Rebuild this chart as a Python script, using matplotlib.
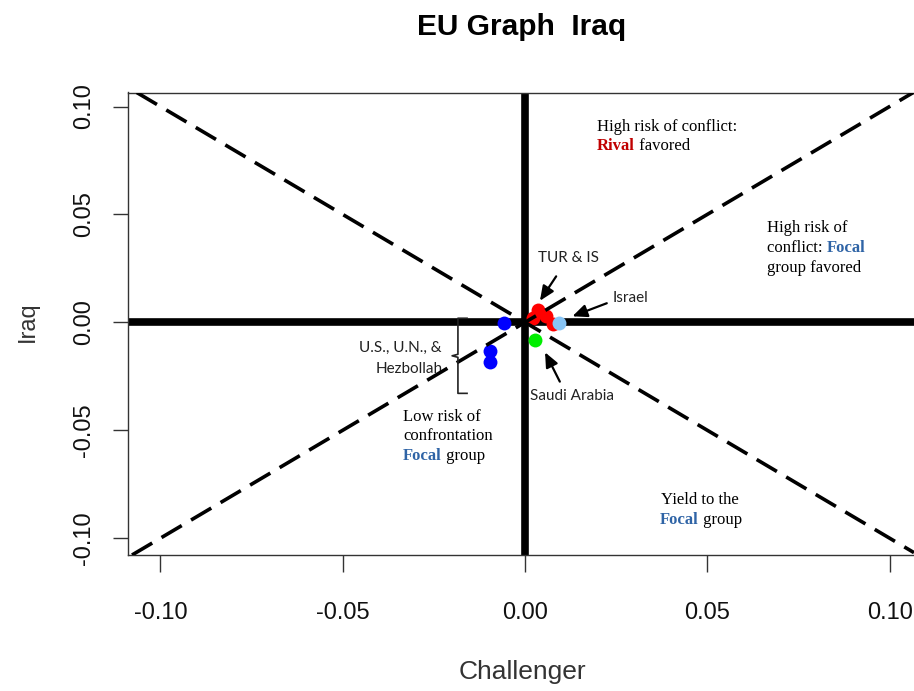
import matplotlib
matplotlib.use("Agg")
import matplotlib.pyplot as plt

# group positions (challenger, iraq)
blue_x = [-0.0058, -0.0096, -0.0096]
blue_y = [-0.0003, -0.0135, -0.0185]
red_x = [0.0022, 0.0036, 0.0058, 0.0076]
red_y = [0.0018, 0.0055, 0.0030, -0.0008]
lightblue_x = [0.0092]
lightblue_y = [-0.0002]
green_x = [0.0028]
green_y = [-0.0083]

xticks = [-0.10, -0.05, 0.00, 0.05, 0.10]
yticks = [-0.10, -0.05, 0.00, 0.05, 0.10]
tick_labels = ["-0.10", "-0.05", "0.00", "0.05", "0.10"]

RED = "#c00000"
FOCAL = "#2f64a6"
serif = "Liberation Serif"
sans = "Lato"

fig = plt.figure(figsize=(9.14, 6.91), dpi=100)
ax = fig.add_axes([128 / 914, 1 - 555 / 691, 1 - 128 / 914, (555 - 92.5) / 691])
ax.set_xlim(-0.1089, 0.1067)
ax.set_ylim(-0.1078, 0.1065)

# quadrant dividers
ax.axhline(0, color="black", lw=5.5, zorder=2)
ax.axvline(0, color="black", lw=5.5, zorder=2)

ax.scatter(blue_x, blue_y, s=100, color="#0000ff", zorder=3, linewidths=0)
ax.scatter(red_x, red_y, s=100, color="#ff0000", zorder=3, linewidths=0)
ax.scatter(lightblue_x, lightblue_y, s=100, color="#87c4f5", zorder=3, linewidths=0)
ax.scatter(green_x, green_y, s=100, color="#00ee00", zorder=3, linewidths=0)

# diagonals
ax.axline((0, 0), slope=1, color="black", lw=2.6, dashes=(6.5, 3), zorder=4)
ax.axline((0, 0), slope=-1, color="black", lw=2.6, dashes=(6.5, 3), zorder=4)

ax.spines["right"].set_visible(False)
for s in ["left", "top", "bottom"]:
    ax.spines[s].set_linewidth(1.0)
    ax.spines[s].set_color("#333333")

ax.set_xticks(xticks)
ax.set_xticklabels(tick_labels, family="Liberation Sans", fontsize=17)
ax.set_yticks(yticks)
ax.set_yticklabels(tick_labels, family="Liberation Sans", fontsize=17, rotation=90, va="center")
ax.tick_params(axis="x", length=12, width=1, pad=22, colors="#333333", labelcolor="#111111")
ax.tick_params(axis="y", length=11, width=1, pad=13, colors="#333333", labelcolor="#111111")

ax.set_xlabel("Challenger", family="Liberation Sans", fontsize=19, color="#333333")
ax.xaxis.set_label_coords((522 - 128) / 786, (555 - 672) / 462.5)
ax.xaxis.label.set_va("center")
ax.set_ylabel("Iraq", family="Liberation Sans", fontsize=17, color="#333333")
ax.yaxis.set_label_coords((28 - 128) / 786, (555 - 322) / 462.5)
ax.yaxis.label.set_va("center")

fig.text(522 / 914, 1 - 27 / 691, "EU Graph  Iraq", ha="center", va="center",
         fontsize=21.5, fontweight="bold", family="Liberation Sans")

fs = 12
# quadrant notes
ax.text(0.0198, 0.0903, "High risk of conflict:", family=serif, fontsize=fs, va="center")
t = ax.text(0.0198, 0.0815, "Rival", family=serif, fontsize=fs, va="center",
            fontweight="bold", color=RED)
ax.annotate(" favored", xy=(1, 0), xycoords=t, va="bottom", family=serif, fontsize=fs)

ax.text(0.0664, 0.0435, "High risk of", family=serif, fontsize=fs, va="center")
t = ax.text(0.0664, 0.0343, "conflict: ", family=serif, fontsize=fs, va="center")
ax.annotate("Focal", xy=(1, 0), xycoords=t, va="bottom", family=serif, fontsize=fs,
            fontweight="bold", color=FOCAL)
ax.text(0.0664, 0.0250, "group favored", family=serif, fontsize=fs, va="center")

ax.text(0.048, -0.0824, "Yield to the", family=serif, fontsize=fs, va="center", ha="center")
t = ax.text(0.0370, -0.0917, "Focal", family=serif, fontsize=fs, va="center", ha="left",
            fontweight="bold", color=FOCAL)
ax.annotate(" group", xy=(1, 0), xycoords=t, va="bottom", family=serif, fontsize=fs)

ax.text(-0.0335, -0.0440, "Low risk of", family=serif, fontsize=fs, va="center")
ax.text(-0.0335, -0.0528, "confrontation", family=serif, fontsize=fs, va="center")
t = ax.text(-0.0335, -0.0618, "Focal", family=serif, fontsize=fs, va="center",
            fontweight="bold", color=FOCAL)
ax.annotate(" group", xy=(1, 0), xycoords=t, va="bottom", family=serif, fontsize=fs)

# group labels
ax.text(-0.0228, -0.0118, "U.S., U.N., &", family=sans, fontsize=11, ha="right",
        va="center", color="#222222")
ax.text(-0.0225, -0.0215, "Hezbollah", family=sans, fontsize=11, ha="right",
        va="center", color="#222222")
ax.plot([-0.0159, -0.0184, -0.0184, -0.0200, -0.0184, -0.0184, -0.0159],
        [0.0019, 0.0019, -0.0148, -0.0155, -0.0162, -0.0329, -0.0329],
        color="#222222", lw=1.2, zorder=5)

arrow = dict(arrowstyle="-|>,head_length=0.8,head_width=0.35", color="black", lw=1.6)
ax.annotate("TUR & IS", xy=(0.0041, 0.0100), xytext=(0.0118, 0.0296), family=sans,
            fontsize=11, ha="center", va="center", color="#222222",
            arrowprops=dict(arrow, shrinkA=7, shrinkB=0))
ax.annotate("Israel", xy=(0.0130, 0.0028), xytext=(0.0239, 0.0111), family=sans,
            fontsize=11, ha="left", va="center", color="#222222",
            arrowprops=dict(arrow, shrinkA=2, shrinkB=0, relpos=(0, 0.3)))
ax.annotate("Saudi Arabia", xy=(0.0055, -0.0139), xytext=(0.0014, -0.0343), family=sans,
            fontsize=11, ha="left", va="center", color="#222222",
            arrowprops=dict(arrow, shrinkA=4, shrinkB=0, relpos=(0.4, 1)))

fig.savefig("out.png", dpi=100)
